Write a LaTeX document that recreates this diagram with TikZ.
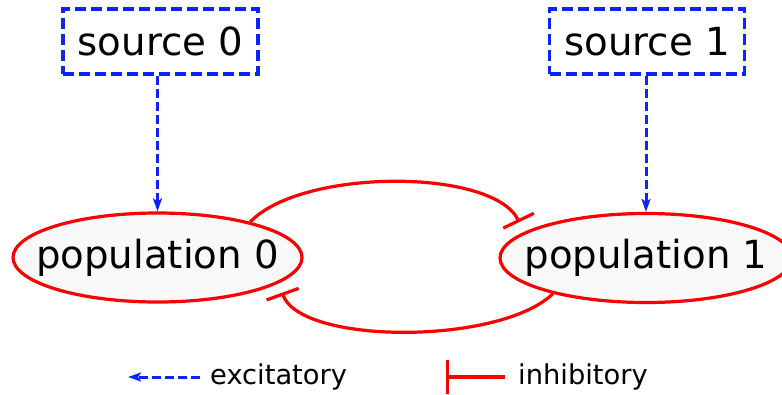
\documentclass[tikz,border=0pt]{standalone}
\usepackage{fontspec}
\setmainfont{DejaVu Sans}
\usetikzlibrary{arrows.meta,shapes.geometric}
\definecolor{excblue}{RGB}{12,36,250}
\definecolor{inhred}{RGB}{250,0,0}
\definecolor{popfill}{RGB}{248,248,248}
\tikzset{
  srcbox/.style={draw=excblue, line width=3.5pt, dash pattern=on 11pt off 5pt,
    fill=white, minimum width=195pt, minimum height=65pt, inner sep=0pt,
    font=\fontsize{38.7}{46}\selectfont},
  popnode/.style={ellipse, draw=inhred, line width=3.2pt, fill=popfill,
    minimum width=289pt, minimum height=89pt, inner xsep=-25pt, inner ysep=0pt,
    font=\fontsize{38.7}{46}\selectfont},
  excite/.style={draw=excblue, line width=3pt, dash pattern=on 9pt off 4pt,
    -{Stealth[length=13pt,width=9pt,inset=3pt]}},
  inhibit/.style={draw=inhred, line width=3.2pt, -{Bar[width=34pt]}},
  legendtext/.style={anchor=west, inner sep=0pt, font=\fontsize{27.3}{33}\selectfont}
}
\begin{document}
\begin{tikzpicture}[x=1pt, y=-1pt]
  \useasboundingbox (0,0) rectangle (782,394);
  \clip (0,0) rectangle (782,394);

  % sources and populations
  \node[srcbox] (s0) at (160.5,41.5) {source 0};
  \node[srcbox] (s1) at (647,41.5) {source 1};
  \node[popnode] (p0) at (157.5,257.5) {population 0};
  \node[popnode, minimum width=292pt] (p1) at (646,258) {population 1};

  % excitatory drive from each source
  \draw[excite] (s0.south -| p0.north) -- (p0.north);
  \draw[excite] (s1.south -| p1.north) -- (p1.north);

  % mutual inhibition between the populations
  \draw[inhibit, shorten >=11pt] (p0.21) .. controls (302,168) and (493,168) .. (p1.168);
  \draw[inhibit, shorten >=10pt] (p1.201) .. controls (500,345) and (301,345) .. (p0.348);

  % legend
  \coordinate (exA) at (200,377);
  \coordinate (exB) at (128,377);
  \draw[excite] (exA) -- (exB);
  \node[legendtext] (exT) at (210,377) {excitatory};

  \coordinate (inA) at (505,377);
  \coordinate (inB) at (446,377);
  \draw[inhibit] (inA) -- (inB);
  \node[legendtext] (inT) at (518,377) {inhibitory};
\end{tikzpicture}
\end{document}
